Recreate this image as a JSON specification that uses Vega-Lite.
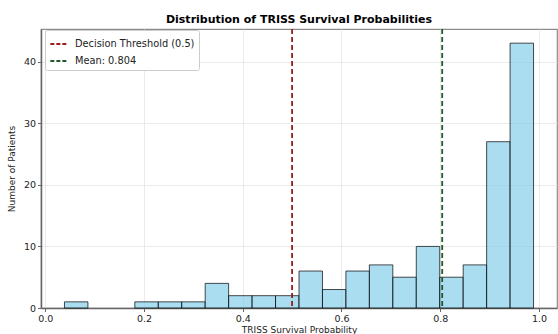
{
  "$schema": "https://vega.github.io/schema/vega-lite/v6.json",
  "width": 516,
  "height": 279,
  "autosize": {"type": "none"},
  "padding": {"left": 41, "top": 29, "right": 1, "bottom": 26},
  "background": "white",
  "config": {
    "font": "DejaVu Sans",
    "view": {"stroke": "#8c8c8c", "strokeWidth": 1.2},
    "axis": {
      "labelFont": "DejaVu Sans",
      "titleFont": "DejaVu Sans",
      "labelFontSize": 9.5,
      "titleFontSize": 9,
      "titleFontWeight": "normal",
      "labelColor": "#222",
      "titleColor": "#222",
      "domainColor": "#666",
      "domainWidth": 1.5,
      "tickColor": "#666",
      "tickSize": 3.5,
      "gridColor": "#e6e6e6",
      "gridWidth": 0.8
    }
  },
  "title": {
    "text": "Distribution of TRISS Survival Probabilities",
    "font": "DejaVu Sans",
    "fontSize": 11,
    "fontWeight": "bold",
    "color": "#000",
    "anchor": "middle",
    "offset": 3
  },
  "datasets": {
    "bins": [
      {"start": 0.039, "end": 0.0865, "count": 1},
      {"start": 0.1815, "end": 0.229, "count": 1},
      {"start": 0.229, "end": 0.2765, "count": 1},
      {"start": 0.2765, "end": 0.324, "count": 1},
      {"start": 0.324, "end": 0.3715, "count": 4},
      {"start": 0.3715, "end": 0.419, "count": 2},
      {"start": 0.419, "end": 0.4665, "count": 2},
      {"start": 0.4665, "end": 0.514, "count": 2},
      {"start": 0.514, "end": 0.5615, "count": 6},
      {"start": 0.5615, "end": 0.609, "count": 3},
      {"start": 0.609, "end": 0.6565, "count": 6},
      {"start": 0.6565, "end": 0.704, "count": 7},
      {"start": 0.704, "end": 0.7515, "count": 5},
      {"start": 0.7515, "end": 0.799, "count": 10},
      {"start": 0.799, "end": 0.8465, "count": 5},
      {"start": 0.8465, "end": 0.894, "count": 7},
      {"start": 0.894, "end": 0.9415, "count": 27},
      {"start": 0.9415, "end": 0.989, "count": 43}
    ],
    "lines": [
      {"label": "Decision Threshold (0.5)", "value": 0.5},
      {"label": "Mean: 0.804", "value": 0.804}
    ]
  },
  "layer": [
    {
      "data": {"name": "bins"},
      "mark": {"type": "rect", "fill": "#87CEEB", "fillOpacity": 0.7, "stroke": "#000", "strokeOpacity": 0.7, "strokeWidth": 1},
      "encoding": {
        "x": {
          "field": "start", "type": "quantitative",
          "scale": {"domain": [-0.0085, 1.0365], "nice": false, "zero": false},
          "axis": {"values": [0, 0.2, 0.4, 0.6, 0.8, 1.0], "format": ".1f", "title": "TRISS Survival Probability", "grid": true, "titlePadding": 2, "labelPadding": 2}
        },
        "x2": {"field": "end"},
        "y": {
          "field": "count", "type": "quantitative",
          "scale": {"domain": [0, 45.3], "nice": false},
          "axis": {"values": [0, 10, 20, 30, 40], "title": "Number of Patients", "grid": true, "titlePadding": 7, "labelPadding": 2}
        },
        "y2": {"datum": 0}
      }
    },
    {
      "data": {"name": "lines"},
      "mark": {"type": "rule", "strokeDash": [5, 3], "strokeWidth": 1.8},
      "encoding": {
        "x": {"field": "value", "type": "quantitative"},
        "color": {
          "field": "label", "type": "nominal",
          "scale": {"domain": ["Decision Threshold (0.5)", "Mean: 0.804"], "range": ["#9b1c1c", "#1f5a2a"]},
          "legend": {
            "title": null,
            "orient": "none",
            "legendX": 4,
            "legendY": 1,
            "symbolType": "stroke",
            "symbolDash": [4, 2],
            "symbolStrokeWidth": 1.8,
            "symbolSize": 300,
            "labelFont": "DejaVu Sans",
            "labelFontSize": 9.8,
            "labelColor": "#222",
            "labelOffset": 6,
            "fillColor": "white",
            "strokeColor": "#cccccc",
            "padding": 4,
            "cornerRadius": 2,
            "rowPadding": 2
          }
        }
      }
    }
  ]
}
